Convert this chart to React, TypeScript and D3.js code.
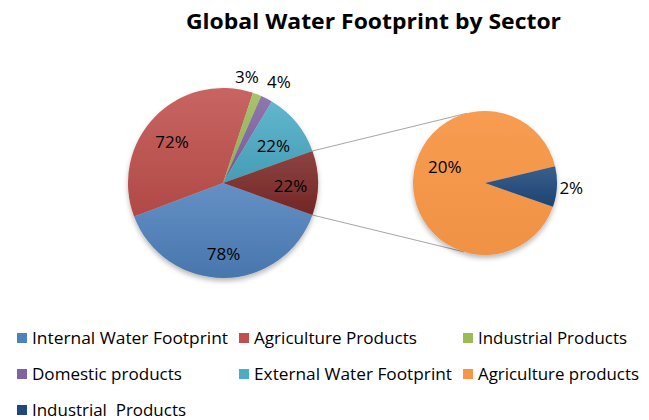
import React from "react";
import * as d3 from "d3";

// ---- data ----
const mainCategories = [
  "Internal Water Footprint",
  "Agriculture Products",
  "Industrial Products",
  "Domestic products",
  "External Water Footprint",
];
const mainValues = [78, 72, 3, 4, 22];
const secondCategories = ["Agriculture products", "Industrial  Products"];
const secondValues = [20, 2];
const titleText = "Global Water Footprint by Sector";

// ---- styles / layout ----
const mainColors = ["#4F81BD", "#C0504D", "#9BBB59", "#8064A2", "#4BACC6"];
const otherColor = "#7E2A28";
const secondColors = ["#F79646", "#1F497D"];
const W = 649;
const H = 420;
const FONT = "'Open Sans', 'Noto Sans', sans-serif";
const main = { cx: 223, cy: 183, r: 95 };
const second = { cx: 485, cy: 183, r: 72 };
const navyCenterDeg = 93;
const connectorDeg = { top: -14.5, bottom: 197 };
// label offsets (px) relative to the computed anchor
const mainLabelNudge = [
  [0, 4.5],
  [-3, 5],
  [-16, -3],
  [5, -3],
  [-1, 5],
];
const mainLabelOutside = [false, false, true, true, false];
const otherNudge = [1, 2];
const secondLabelNudge = [
  [3, -14],
  [0, 0],
];
const secondLabelOutside = [false, true];
const legendCols = [17, 239, 463];
const legendRows = [338, 374, 410];
const legendTextWidths = [196, 163, 149, 150, 198, 161, 154];

const rad = (d: number) => (d * Math.PI) / 180;

function shade(c: string, light = 0.12, dark = 0.25) {
  const top = d3.interpolateRgb(c, "#ffffff")(light);
  const bottom = d3.color(c)!.darker(dark).formatHex();
  return { top, bottom };
}

export default function App() {
  const otherValue = d3.sum(secondValues);
  const total = d3.sum(mainValues) + otherValue;
  const otherAngle = (otherValue / total) * 360;
  const mainStart = 90 + otherAngle / 2;

  const mainAll = [...mainValues, otherValue];
  const pieMain = d3
    .pie<number>()
    .sort(null)
    .value((d) => d)
    .startAngle(rad(mainStart))
    .endAngle(rad(mainStart + 360));
  const mainArcs = pieMain(mainAll);

  const secTotal = d3.sum(secondValues);
  const navyAngle = (secondValues[1] / secTotal) * 360;
  const secStart = navyCenterDeg + navyAngle / 2;
  const pieSec = d3
    .pie<number>()
    .sort(null)
    .value((d) => d)
    .startAngle(rad(secStart))
    .endAngle(rad(secStart + 360));
  const secArcs = pieSec(secondValues);

  const arcMain = d3.arc<d3.PieArcDatum<number>>().innerRadius(0).outerRadius(main.r);
  const arcSec = d3.arc<d3.PieArcDatum<number>>().innerRadius(0).outerRadius(second.r);
  const lblIn = (r: number, f: number) =>
    d3.arc<d3.PieArcDatum<number>>().innerRadius(r * f).outerRadius(r * f);
  const mainIn = lblIn(main.r, 0.7);
  const mainOut = lblIn(main.r, 1.17);
  const secIn = lblIn(second.r, 0.6);
  const secOut = lblIn(second.r, 1.2);

  const mainFill = [...mainColors, otherColor];

  // connector lines
  const oa = mainArcs[5];
  const pt = (c: { cx: number; cy: number; r: number }, a: number) => [
    c.cx + c.r * Math.sin(a),
    c.cy - c.r * Math.cos(a),
  ];
  const m1 = pt(main, oa.startAngle);
  const m2 = pt(main, oa.endAngle);
  const s1 = pt(second, rad(connectorDeg.top));
  const s2 = pt(second, rad(connectorDeg.bottom));

  const legendItems = [
    ...mainCategories.map((c, i) => ({ name: c, color: mainColors[i] })),
    ...secondCategories.map((c, i) => ({ name: c, color: secondColors[i] })),
  ];

  return (
    <svg
      width={W}
      height={H}
      style={{ position: "absolute", left: 0, top: 0, background: "#fff" }}
      fontFamily={FONT}
    >
      <defs>
        {mainFill.map((c, i) => {
          const s = shade(c);
          return (
            <linearGradient key={"gm" + i} id={"gm" + i} x1="0" y1="0" x2="0" y2="1">
              <stop offset="0" stopColor={s.top} />
              <stop offset="1" stopColor={s.bottom} />
            </linearGradient>
          );
        })}
        {secondColors.map((c, i) => {
          const s = i === 0 ? shade(c, 0.06, 0.08) : shade(c);
          return (
            <linearGradient key={"gs" + i} id={"gs" + i} x1="0" y1="0" x2="0" y2="1">
              <stop offset="0" stopColor={s.top} />
              <stop offset="1" stopColor={s.bottom} />
            </linearGradient>
          );
        })}
        <filter id="shadow" x="-20%" y="-20%" width="140%" height="140%">
          <feDropShadow dx="0" dy="3" stdDeviation="2.5" floodColor="#000" floodOpacity="0.28" />
        </filter>
      </defs>

      <text
        x={373.5}
        y={29}
        textAnchor="middle"
        fontSize={21}
        fontWeight="bold"
        fill="#000"
        textLength={375}
        lengthAdjust="spacingAndGlyphs"
      >
        {titleText}
      </text>

      <line x1={m1[0]} y1={m1[1]} x2={s1[0]} y2={s1[1]} stroke="#a6a6a6" strokeWidth={1} />
      <line x1={m2[0]} y1={m2[1]} x2={s2[0]} y2={s2[1]} stroke="#a6a6a6" strokeWidth={1} />

      <g transform={`translate(${main.cx},${main.cy})`} filter="url(#shadow)">
        {mainArcs.map((a, i) => (
          <path key={i} d={arcMain(a) || ""} fill={`url(#gm${i})`} />
        ))}
      </g>
      <g transform={`translate(${second.cx},${second.cy})`} filter="url(#shadow)">
        {secArcs.map((a, i) => (
          <path key={i} d={arcSec(a) || ""} fill={`url(#gs${i})`} />
        ))}
      </g>

      <g transform={`translate(${main.cx},${main.cy})`} fontSize={17} fill="#000">
        {mainArcs.map((a, i) => {
          const isOther = i === 5;
          const gen = !isOther && mainLabelOutside[i] ? mainOut : mainIn;
          const [x, y] = gen.centroid(a);
          const n = isOther ? otherNudge : mainLabelNudge[i];
          return (
            <text
              key={i}
              x={x + n[0]}
              y={y + n[1]}
              textAnchor="middle"
              dominantBaseline="central"
            >
              {a.data}%
            </text>
          );
        })}
      </g>
      <g transform={`translate(${second.cx},${second.cy})`} fontSize={17} fill="#000">
        {secArcs.map((a, i) => {
          const gen = secondLabelOutside[i] ? secOut : secIn;
          const [x, y] = gen.centroid(a);
          const n = secondLabelNudge[i];
          return (
            <text
              key={i}
              x={x + n[0]}
              y={y + n[1]}
              textAnchor="middle"
              dominantBaseline="central"
            >
              {a.data}%
            </text>
          );
        })}
      </g>

      <g fontSize={16.5} fill="#000">
        {legendItems.map((it, i) => {
          const col = i % 3;
          const row = Math.floor(i / 3);
          const x = legendCols[col];
          const y = legendRows[row];
          return (
            <g key={i}>
              <rect x={x} y={y - 5} width={10} height={10} fill={it.color} />
              <text
                x={x + 15}
                y={y + 5.8}
                textLength={legendTextWidths[i]}
                lengthAdjust="spacingAndGlyphs"
                style={{ whiteSpace: "pre" }}
              >
                {it.name}
              </text>
            </g>
          );
        })}
      </g>
    </svg>
  );
}
